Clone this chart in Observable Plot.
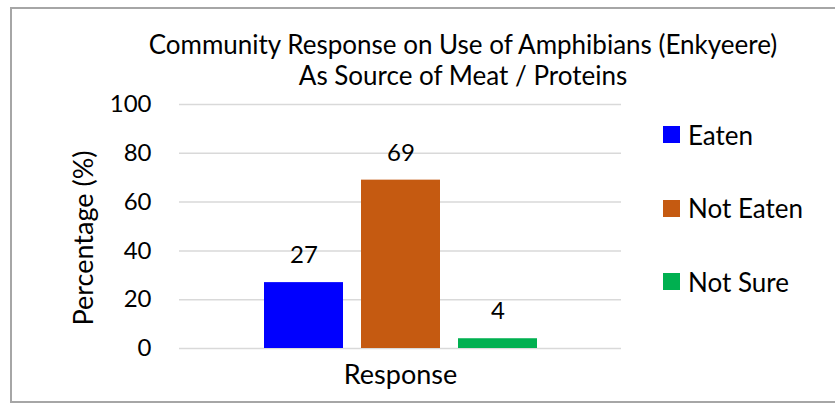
<!DOCTYPE html>
<html>
<head>
<meta charset="utf-8">
<script src="https://cdn.jsdelivr.net/npm/d3@7"></script>
<script src="https://cdn.jsdelivr.net/npm/@observablehq/plot@0.6"></script>
<style>
  html, body { margin: 0; padding: 0; background: #fff; }
  #wrap { position: relative; width: 835px; height: 406px; overflow: hidden; font-family: Lato, "Open Sans", sans-serif; color: #000; }
  #frame { position: absolute; left: 10px; top: 7px; width: 900px; height: 396px; border-left: 2px solid #A6A6A6; border-top: 2px solid #A6A6A6; border-bottom: 2px solid #A6A6A6; box-sizing: border-box; }
  #title { position: absolute; left: 0; top: 29px; width: 926px; text-align: center; font-size: 26px; line-height: 31px; }
  #chart { position: absolute; left: 0; top: 92px; }
  #ylabel { position: absolute; left: 83px; top: 238px; transform: translate(-50%, -50%) rotate(-90deg); white-space: nowrap; font-size: 27px; line-height: 30px; }
  #legend { position: absolute; left: 663px; top: 98px; }
  .item { display: flex; align-items: center; height: 73.5px; font-size: 26px; }
  .sw { width: 17px; height: 17px; margin-right: 8px; }
</style>
</head>
<body>
<div id="wrap">
  <div id="frame"></div>
  <div id="title"></div>
  <div id="chart"></div>
  <div id="ylabel"></div>
  <div id="legend"></div>
</div>
<script>
const titleLines = ["Community Response on Use of Amphibians (Enkyeere)", "As Source of Meat / Proteins"];
const categories = ["Response"];
const series = ["Eaten", "Not Eaten", "Not Sure"];
const values = [27, 69, 4];
const colors = ["#0000FF", "#C55A11", "#00B050"];
const yTicks = [0, 20, 40, 60, 80, 100];
const yLabel = "Percentage (%)";

const data = series.map((s, i) => ({cat: categories[0], series: s, value: values[i]}));

document.getElementById("title").innerHTML = titleLines.join("<br>");
document.getElementById("ylabel").textContent = yLabel;

const chart = Plot.plot({
  width: 835,
  height: 314,
  marginTop: 12,
  marginBottom: 58,
  marginLeft: 179,
  marginRight: 214,
  style: {fontFamily: "Lato, 'Open Sans', sans-serif", fontSize: "24px", color: "#000", background: "transparent", overflow: "visible"},
  fx: {domain: categories, padding: 0, label: null},
  x: {domain: series, paddingInner: 0.19, paddingOuter: 0.861, axis: null},
  y: {domain: [0, 100], ticks: yTicks},
  color: {domain: series, range: colors},
  marks: [
    Plot.gridY(yTicks, {stroke: "#D9D9D9", strokeOpacity: 1, strokeWidth: 1.5}),
    Plot.barY(data, {fx: "cat", x: "series", y: "value", fill: "series"}),
    Plot.text(data, {fx: "cat", x: "series", y: "value", text: d => String(d.value), dy: -27, fill: "#000"}),
    Plot.axisY({ticks: yTicks, tickSize: 0, tickPadding: 28, label: null}),
    Plot.axisFx({anchor: "bottom", tickSize: 0, tickPadding: 16, label: null, fontSize: 27})
  ]
});
document.getElementById("chart").appendChild(chart);

const legend = document.getElementById("legend");
series.forEach((s, i) => {
  const item = document.createElement("div");
  item.className = "item";
  const sw = document.createElement("div");
  sw.className = "sw";
  sw.style.background = colors[i];
  const lab = document.createElement("span");
  lab.textContent = s;
  item.appendChild(sw);
  item.appendChild(lab);
  legend.appendChild(item);
});
</script>
</body>
</html>
